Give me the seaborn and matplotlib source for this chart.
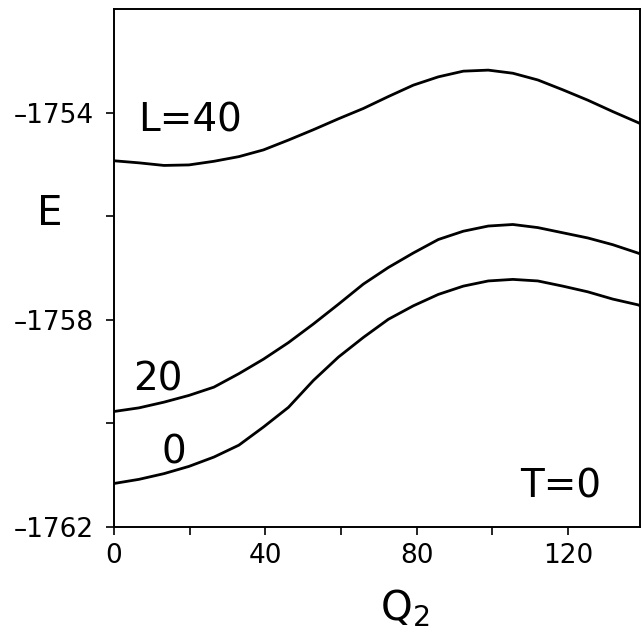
import numpy as np
import pandas as pd
import matplotlib
matplotlib.use("Agg")
import matplotlib.pyplot as plt
import seaborn as sns
from matplotlib.ticker import FixedLocator, FixedFormatter

# Data
q2 = [0, 6.6, 13.2, 19.8, 26.4, 33.0, 39.5, 46.1, 52.7, 59.3, 65.9, 72.5,
      79.1, 85.7, 92.3, 98.9, 105.4, 112.0, 118.6, 125.2, 131.8, 138.4, 141.0]
e_L40 = [-1754.93, -1754.97, -1755.02, -1755.01, -1754.94, -1754.85, -1754.72,
         -1754.53, -1754.33, -1754.12, -1753.92, -1753.69, -1753.47, -1753.31,
         -1753.20, -1753.18, -1753.24, -1753.37, -1753.56, -1753.76, -1753.98,
         -1754.19, -1754.28]
e_L20 = [-1759.77, -1759.70, -1759.59, -1759.46, -1759.30, -1759.04, -1758.76,
         -1758.44, -1758.08, -1757.70, -1757.31, -1756.99, -1756.71, -1756.45,
         -1756.29, -1756.19, -1756.16, -1756.22, -1756.32, -1756.42, -1756.55,
         -1756.71, -1756.78]
e_L0 = [-1761.16, -1761.08, -1760.97, -1760.83, -1760.65, -1760.42, -1760.07,
        -1759.69, -1759.17, -1758.72, -1758.34, -1757.99, -1757.73, -1757.51,
        -1757.35, -1757.25, -1757.22, -1757.25, -1757.35, -1757.46, -1757.60,
        -1757.71, -1757.78]

xticks = [0, 40, 80, 120]
xtick_labels = ["0", "40", "80", "120"]
xminor = [20, 60, 100]
yticks = [-1762, -1758, -1754]
ytick_labels = ["\u20131762", "\u20131758", "\u20131754"]
yminor = [-1760, -1756]

# curve labels: (text, x, E at baseline)
labels = [("L=40", 20.0, -1754.37), ("20", 11.6, -1759.37),
          ("0", 15.8, -1760.77), ("T=0", 118.1, -1761.44)]

sns.set_style("ticks")
plt.rcParams['font.family'] = ['DejaVu Sans']

fig = plt.figure(figsize=(6.41, 6.33), dpi=100)
ax = fig.add_axes([114 / 641, (633 - 527) / 633, 526 / 641, 518 / 633])

for vals in [e_L40, e_L20, e_L0]:
    sns.lineplot(x=q2, y=vals, color="black", linewidth=2.0, ax=ax)

for txt, x, y in labels:
    ax.text(x, y, txt, fontsize=28, ha="center", va="baseline", color="black")

ax.set_xlim(0, 139)
ax.set_ylim(-1762, -1752)

ax.xaxis.set_major_locator(FixedLocator(xticks))
ax.xaxis.set_major_formatter(FixedFormatter(xtick_labels))
ax.xaxis.set_minor_locator(FixedLocator(xminor))
ax.yaxis.set_major_locator(FixedLocator(yticks))
ax.yaxis.set_major_formatter(FixedFormatter(ytick_labels))
ax.yaxis.set_minor_locator(FixedLocator(yminor))

ax.tick_params(which="both", direction="out", length=5.5, width=1.2,
               colors="black", labelsize=19)
ax.tick_params(axis="y", which="major", pad=9)
ax.tick_params(axis="x", which="major", pad=6)

for s in ax.spines.values():
    s.set_visible(True)
    s.set_linewidth(1.4)
    s.set_color("black")

ax.set_ylabel("E", fontsize=29, rotation=0, ha="center", va="center",
              color="black")
ax.yaxis.set_label_coords(-0.122, 0.604)
ax.set_xlabel("Q$_2$", fontsize=29, va="center", color="black")
ax.xaxis.set_label_coords(0.553, -0.158)

fig.savefig("out.png", dpi=100)
